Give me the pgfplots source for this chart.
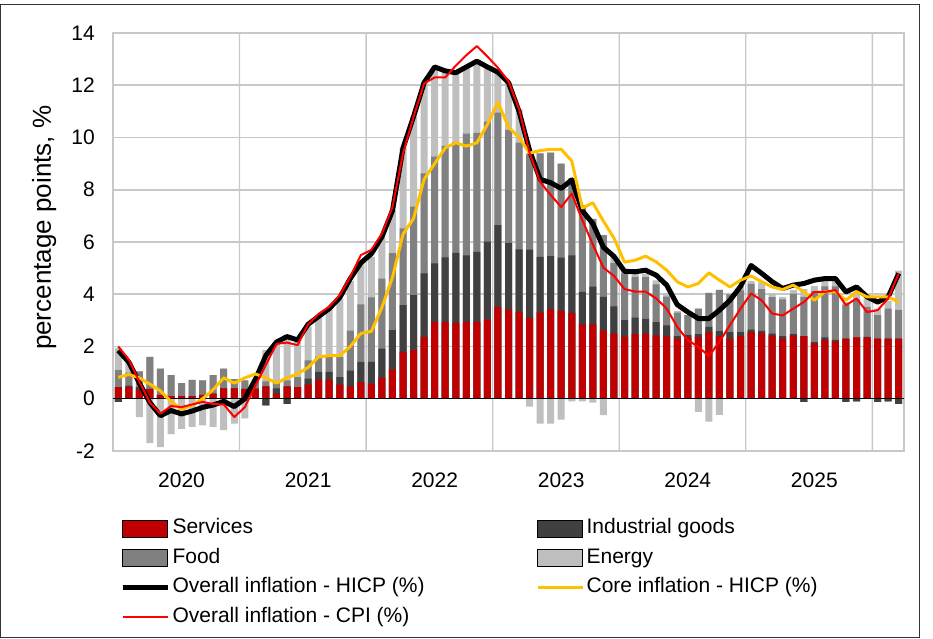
\documentclass[border=0pt]{standalone}
\usepackage{fontspec}
\setmainfont{Liberation Sans}
\usepackage{pgfplots}
\usepackage{pgfplotstable}
\pgfplotsset{compat=1.18}

\definecolor{serv}{HTML}{C00000}
\definecolor{ind}{HTML}{404040}
\definecolor{food}{HTML}{808080}
\definecolor{ener}{HTML}{BFBFBF}
\definecolor{core}{HTML}{FFC000}
\definecolor{cpi}{HTML}{FF0000}
\definecolor{frameline}{HTML}{C8C8C8}

\pgfplotsset{
  mypatch/.style={legend image code/.code={\fill[##1] (0pt,-8.5pt) rectangle (45pt,8.5pt);}},
  myline/.style={legend image code/.code={\draw[##1] (0pt,0pt) -- (45pt,0pt);}},
}

% i = month index (0 = Jan 2020); S services, I industrial goods, F food, E energy (pp)
% H overall HICP, C core HICP, P overall CPI (%)
\pgfplotstableread{
i S I F E H C P
0 0.45 -0.12 0.65 0.85 1.85 0.82 2.0
1 0.45 0.05 0.5 0.4 1.4 0.93 1.5
2 0.35 0.1 0.6 -0.7 0.6 0.8 0.65
3 0.38 0.0 1.22 -1.7 -0.15 0.56 -0.15
4 0.15 0.0 1.0 -1.85 -0.65 0.3 -0.57
5 0.1 0.0 0.8 -1.35 -0.45 -0.1 -0.28
6 0.1 0.0 0.5 -1.15 -0.58 -0.4 -0.32
7 0.1 0.0 0.62 -1.08 -0.47 -0.25 -0.22
8 0.15 0.0 0.55 -1.02 -0.33 0.0 -0.12
9 0.2 0.0 0.7 -1.08 -0.24 0.35 -0.2
10 0.4 0.0 0.75 -1.2 -0.1 0.8 -0.22
11 0.4 0.0 0.35 -0.95 -0.3 0.6 -0.7
12 0.38 0.0 0.32 -0.75 0.0 0.8 -0.32
13 0.38 0.02 0.3 0.05 0.74 0.95 0.5
14 0.47 -0.25 0.2 1.2 1.66 0.8 1.3
15 0.2 0.2 0.25 1.5 2.17 0.6 2.1
16 0.47 -0.2 0.23 1.75 2.38 0.8 2.15
17 0.45 0.0 0.38 1.35 2.25 0.95 2.05
18 0.55 0.22 0.7 1.3 2.85 1.2 2.85
19 0.73 0.3 0.57 1.6 3.15 1.6 3.25
20 0.73 0.3 0.64 1.75 3.45 1.65 3.52
21 0.55 0.28 0.77 2.2 3.87 1.65 3.97
22 0.47 0.61 1.53 1.9 4.6 2.0 4.67
23 0.64 0.77 2.2 1.6 5.2 2.5 5.5
24 0.58 0.83 2.47 1.55 5.55 2.58 5.7
25 0.81 1.11 2.68 1.6 6.2 3.5 6.32
26 1.12 1.51 2.94 1.66 7.2 4.65 7.34
27 1.79 1.79 2.94 3.1 9.6 6.3 9.39
28 1.86 2.11 3.38 3.45 10.8 6.9 10.8
29 2.37 2.43 3.83 3.5 12.1 8.4 12.07
30 2.94 2.24 4.09 3.4 12.7 9.0 12.3
31 2.94 2.47 4.27 2.84 12.55 9.6 12.3
32 2.9 2.68 4.25 2.64 12.48 9.8 12.75
33 2.94 2.55 4.66 2.55 12.7 9.67 13.15
34 2.94 2.68 4.56 2.72 12.92 9.8 13.5
35 3.03 2.98 4.6 2.04 12.7 10.5 13.1
36 3.52 3.13 4.3 1.6 12.5 11.35 12.67
37 3.42 2.55 4.32 1.8 12.1 10.4 12.15
38 3.33 2.39 4.08 1.28 11.0 10.0 11.1
39 3.11 2.6 3.67 -0.3 9.5 9.4 9.4
40 3.31 2.12 3.96 -0.95 8.4 9.5 8.3
41 3.42 2.04 3.96 -0.95 8.27 9.55 7.8
42 3.36 2.04 3.6 -0.8 8.05 9.55 7.34
43 3.29 2.2 2.95 -0.1 8.38 9.1 7.85
44 2.85 1.24 3.32 -0.1 7.2 7.3 6.84
45 2.85 1.44 2.6 -0.15 6.7 7.5 5.9
46 2.62 1.28 2.36 -0.63 5.8 6.8 5.02
47 2.49 1.05 1.65 0.25 5.45 6.15 4.7
48 2.37 0.64 1.79 0.13 4.88 5.23 4.2
49 2.47 0.64 1.56 0.13 4.86 5.3 4.1
50 2.49 0.57 1.6 0.13 4.92 5.46 4.1
51 2.43 0.5 1.45 0.15 4.73 5.24 3.84
52 2.39 0.42 1.1 0.13 4.35 4.92 3.45
53 2.3 0.1 0.9 0.05 3.6 4.48 2.75
54 2.37 0.08 0.75 0.0 3.32 4.28 2.24
55 2.37 0.1 0.98 -0.5 3.07 4.41 1.99
56 2.55 0.2 1.3 -0.88 3.07 4.82 1.63
57 2.4 0.19 1.58 -0.62 3.39 4.54 2.18
58 2.3 0.25 1.45 0.05 3.77 4.28 2.82
59 2.4 0.15 1.6 0.15 4.3 4.54 3.45
60 2.55 0.1 1.75 0.1 5.1 4.7 4.03
61 2.5 0.1 1.6 0.25 4.8 4.48 3.77
62 2.42 0.07 1.4 0.15 4.48 4.28 3.26
63 2.3 0.1 1.4 0.1 4.22 4.18 3.19
64 2.42 0.05 1.55 0.15 4.35 4.35 3.45
65 2.4 -0.12 1.5 0.3 4.41 4.1 3.7
66 2.12 0.05 1.95 0.2 4.54 3.77 4.09
67 2.25 0.1 1.95 0.2 4.6 4.1 4.09
68 2.2 0.05 2.05 0.25 4.6 4.1 4.16
69 2.3 -0.12 1.3 0.1 4.09 3.77 3.58
70 2.35 -0.1 1.45 0.2 4.28 4.1 3.84
71 2.35 0.02 1.15 0.3 3.9 3.9 3.32
72 2.3 -0.12 0.9 0.25 3.7 3.9 3.39
73 2.3 -0.1 1.15 0.3 3.9 3.9 3.84
74 2.3 -0.2 1.1 1.5 4.8 3.7 4.8
}\data

\begin{document}
\begin{tikzpicture}[x=1pt,y=1pt]
\path[use as bounding box] (-113,-187) rectangle (820,451);
\draw[black!80, line width=0.8pt] (-112.6,447) rectangle (806,-186.6);
\begin{axis}[
  at={(0,0)}, anchor=south west,
  width=791pt, height=418pt, scale only axis,
  xmin=-0.5, xmax=74.5, ymin=-2, ymax=14,
  ytick={-2,0,2,4,6,8,10,12,14},
  xtick={6,18,30,42,54,66},
  xticklabels={2020,2021,2022,2023,2024,2025},
  axis line style={draw=frameline, line width=1.3pt},
  tick style={draw=none},
  /pgf/number format/assume math mode=true,
  tick label style={font=\fontsize{21}{25}\selectfont},
  yticklabel style={inner sep=0pt, anchor=east, xshift=-18pt},
  xticklabel style={inner sep=0pt, anchor=north, yshift=-21.5pt},
  ylabel={percentage points, \%},
  every axis y label/.style={at={(axis description cs:-0.087,0.534)}, rotate=90, anchor=center, font=\fontsize{26}{30}\selectfont},
  legend style={draw=none, fill=none, at={(rel axis cs:0.0089,-0.1500)}, anchor=north west,
    inner sep=0pt, outer sep=0pt, font=\fontsize{21}{25}\selectfont,
    row sep=0pt, column sep=0pt,
    nodes={inner xsep=2.5pt, inner ysep=5pt, text height=15pt, text depth=4.5pt},
    /tikz/column 2/.style={column sep=109pt}},
  legend cell align=left,
  legend columns=2,
]
\addlegendimage{mypatch, fill=serv}\addlegendentry{Services}
\addlegendimage{mypatch, fill=ind}\addlegendentry{Industrial goods}
\addlegendimage{mypatch, fill=food}\addlegendentry{Food}
\addlegendimage{mypatch, fill=ener}\addlegendentry{Energy}
\addlegendimage{myline, black, line width=5pt}\addlegendentry{Overall inflation - HICP (\%)}
\addlegendimage{myline, core, line width=3pt}\addlegendentry{Core inflation - HICP (\%)}
\addlegendimage{myline, cpi, line width=2pt}\addlegendentry{Overall inflation - CPI (\%)}

% vertical gridlines (year separators) as thin filled columns from -2 to 14
\addplot[ybar, bar width=1.3pt, bar shift=0pt, fill=frameline, draw=none, forget plot] coordinates {(11.5,14) (23.5,14) (35.5,14) (47.5,14) (59.5,14) (71.5,14)};
\addplot[ybar, bar width=1.3pt, bar shift=0pt, fill=frameline, draw=none, forget plot] coordinates {(11.5,-2) (23.5,-2) (35.5,-2) (47.5,-2) (59.5,-2) (71.5,-2)};
% horizontal gridlines as thin filled strips
\addplot[fill=frameline, draw=none, forget plot] coordinates {(-0.5,1.97) (74.5,1.97) (74.5,2.03) (-0.5,2.03)} -- cycle;
\addplot[fill=frameline, draw=none, forget plot] coordinates {(-0.5,3.97) (74.5,3.97) (74.5,4.03) (-0.5,4.03)} -- cycle;
\addplot[fill=frameline, draw=none, forget plot] coordinates {(-0.5,5.97) (74.5,5.97) (74.5,6.03) (-0.5,6.03)} -- cycle;
\addplot[fill=frameline, draw=none, forget plot] coordinates {(-0.5,7.97) (74.5,7.97) (74.5,8.03) (-0.5,8.03)} -- cycle;
\addplot[fill=frameline, draw=none, forget plot] coordinates {(-0.5,9.97) (74.5,9.97) (74.5,10.03) (-0.5,10.03)} -- cycle;
\addplot[fill=frameline, draw=none, forget plot] coordinates {(-0.5,11.97) (74.5,11.97) (74.5,12.03) (-0.5,12.03)} -- cycle;

% positive stacks (overlaid from the tallest cumulative down)
\addplot[ybar, bar width=7pt, bar shift=0pt, fill=ener, draw=none, forget plot] table[x=i, y expr={max(\thisrow{S},0)+max(\thisrow{I},0)+max(\thisrow{F},0)+max(\thisrow{E},0)}] {\data};
\addplot[ybar, bar width=7pt, bar shift=0pt, fill=food, draw=none, forget plot] table[x=i, y expr={max(\thisrow{S},0)+max(\thisrow{I},0)+max(\thisrow{F},0)}] {\data};
\addplot[ybar, bar width=7pt, bar shift=0pt, fill=ind, draw=none, forget plot] table[x=i, y expr={max(\thisrow{S},0)+max(\thisrow{I},0)}] {\data};
\addplot[ybar, bar width=7pt, bar shift=0pt, fill=serv, draw=none, forget plot] table[x=i, y expr={max(\thisrow{S},0)}] {\data};
% negative stacks
\addplot[ybar, bar width=7pt, bar shift=0pt, fill=ener, draw=none, forget plot] table[x=i, y expr={min(\thisrow{S},0)+min(\thisrow{I},0)+min(\thisrow{F},0)+min(\thisrow{E},0)}] {\data};
\addplot[ybar, bar width=7pt, bar shift=0pt, fill=food, draw=none, forget plot] table[x=i, y expr={min(\thisrow{S},0)+min(\thisrow{I},0)+min(\thisrow{F},0)}] {\data};
\addplot[ybar, bar width=7pt, bar shift=0pt, fill=ind, draw=none, forget plot] table[x=i, y expr={min(\thisrow{S},0)+min(\thisrow{I},0)}] {\data};
\addplot[ybar, bar width=7pt, bar shift=0pt, fill=serv, draw=none, forget plot] table[x=i, y expr={min(\thisrow{S},0)}] {\data};
% zero line
\addplot[black, line width=1pt, forget plot] coordinates {(-0.5,0) (74.5,0)};
% lines
\addplot[black, line width=5pt, line join=round, forget plot] table[x=i, y=H] {\data};
\addplot[core, line width=3pt, line join=round, forget plot] table[x=i, y=C] {\data};
\addplot[cpi, line width=2pt, line join=round, forget plot] table[x=i, y=P] {\data};
\end{axis}
\end{tikzpicture}
\end{document}
